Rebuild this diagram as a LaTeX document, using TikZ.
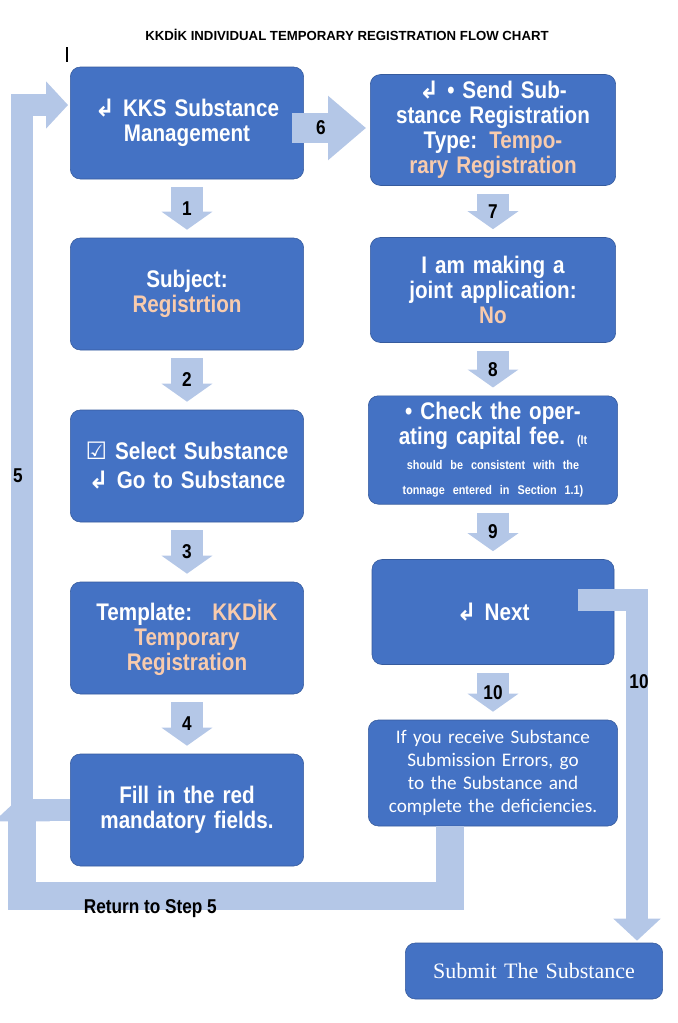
\documentclass[tikz,border=0pt]{standalone}
\usepackage{fontspec}
\setmainfont{Liberation Sans}
\newfontfamily\nar{Liberation Sans}[FakeStretch=0.86]
\newfontfamily\sym{DejaVu Sans}
\newfontfamily\calfont{Carlito}
\newfontfamily\serfont{Liberation Serif}
\usepackage{tikz}
\usetikzlibrary{arrows.meta}
\definecolor{boxblue}{HTML}{4472C4}
\definecolor{pale}{HTML}{B4C7E7}
\definecolor{peach}{HTML}{F8CBAD}
\newcommand{\hk}{{\sym\char"21B2}}
\newcommand{\pc}[1]{\textcolor{peach}{#1}}
\begin{document}
\begin{tikzpicture}[x=0.5pt,y=-0.5pt,
	box/.style={rectangle,rounded corners=5pt,fill=boxblue,draw=boxblue!80!black,line width=0.3pt,
		minimum width=114pt,minimum height=56pt,text width=110pt,align=center,text=white,
		font=\nar\bfseries\fontsize{12}{12.5}\selectfont},
	dn/.style={draw=pale,line width=16pt,-{Triangle[length=9pt,width=25pt]}},
	loop/.style={draw=pale,line width=11pt,-{Triangle[length=11pt,width=23pt]}},
	num/.style={font=\nar\bfseries\fontsize{10}{10}\selectfont}]
	\useasboundingbox (0,0) rectangle (677,1023);
	\node[font=\bfseries\fontsize{6.6}{7}\selectfont] (title) at (347,35) {KKD\.{I}K INDIVIDUAL TEMPORARY REGISTRATION FLOW CHART};
	\draw[line width=0.6pt] (67,47) -- (67,62);
	%
	\node[box] (s0) at (187,123) {\hk\ KKS Substance Management\\[14pt]};
	\node[box] (s1) at (187,294) {Subject:\\ \pc{Registrtion}};
	\node[box] (s2) at (187,466) {{\sym\char"2611} Select Substance\\[2pt] \hk\ Go to Substance};
	\node[box] (s3) at (187,638) {Template: ~\pc{KKD\.{I}K Temporary Registration}};
	\node[box] (s4) at (187,810) {Fill in the red mandatory fields.};
	%
	\node[box,minimum width=121pt,minimum height=52.5pt,text width=116pt] (r0) at (493,130) {\hk\ \textbullet\ Send Substance Registration Type: \pc{Temporary Registration}};
	\node[box,minimum width=121pt,minimum height=52.5pt,text width=116pt] (r1) at (493,290) {I am making a joint application:\\ \pc{No}};
	\node[box,minimum width=121pt,minimum height=52pt,text width=118pt] (r2) at (493,450) {\textbullet\ Check the operating capital fee. {\fontsize{6.3}{6.8}\selectfont(It should be consistent with the tonnage entered in Section 1.1)}};
	\node[box,minimum width=121pt,minimum height=52.5pt] (r3) at (493,612) {\hk\ Next};
	\node[box,minimum width=121pt,minimum height=53pt,text width=118pt,font=\calfont\fontsize{9.6}{11.5}\selectfont] (r4) at (493,773) {If you receive Substance Submission Errors, go to the Substance and complete the deficiencies.};
	\node[box,minimum width=126pt,minimum height=28pt,text width=122pt,font=\serfont\fontsize{11}{12}\selectfont] (sub) at (534,971) {Submit The Substance\\[6pt]};
	%
	\draw[dn] ([yshift=-4pt]s0.south) -- node[num]{1} ([yshift=4pt]s1.north);
	\draw[dn] ([yshift=-4pt]s1.south) -- node[num]{2} ([yshift=4pt]s2.north);
	\draw[dn] ([yshift=-4pt]s2.south) -- node[num]{3} ([yshift=4pt]s3.north);
	\draw[dn] ([yshift=-4pt]s3.south) -- node[num]{4} ([yshift=4pt]s4.north);
	\draw[dn] ([yshift=-4pt]r0.south) -- node[num]{7} ([yshift=4pt]r1.north);
	\draw[dn] ([yshift=-4pt]r1.south) -- node[num]{8} ([yshift=4pt]r2.north);
	\draw[dn] ([yshift=-4pt]r2.south) -- node[num]{9} ([yshift=4pt]r3.north);
	\draw[dn] ([yshift=-4pt]r3.south) -- node[num]{10} ([yshift=4pt]r4.north);
	%
	\draw[draw=pale,line width=15pt,-{Triangle[length=19pt,width=31pt]}] ([xshift=-6pt,yshift=-2.5pt]s0.east) -- node[num,xshift=-4pt]{6} ([xshift=-2pt,yshift=-2.5pt]s0.east -| r0.west);
	\draw[loop] (s4.west) -| ++(-48,-705) -- ([xshift=-1pt,yshift=9pt]s0.west);
	\node[num] (n5) at (18,476) {5};
	\draw[draw=pale,line width=14pt,-{Triangle[length=13pt,width=27pt]}] ([xshift=-21.5pt]r4.south) -- ++(0,70) -| node[num,pos=0.35,yshift=-6pt]{Return to Step 5} ++(-428,-101);
	\draw[loop] ([xshift=-18pt,yshift=6pt]r3.east) -| node[num,pos=0.62,xshift=1pt]{10} ([xshift=51.5pt,yshift=1pt]sub.north);
\end{tikzpicture}
\end{document}
